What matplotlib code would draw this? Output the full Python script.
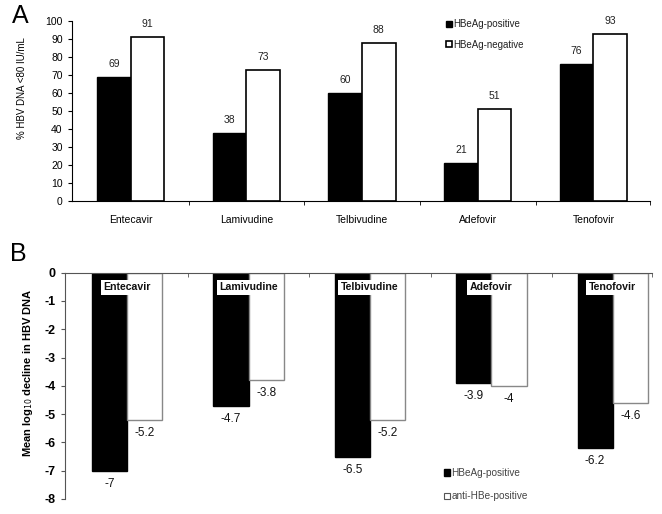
import matplotlib
matplotlib.use("Agg")
import matplotlib.pyplot as plt
from matplotlib.patches import Patch
import numpy as np

plt.rcParams['font.family'] = ['Liberation Sans', 'DejaVu Sans']
plt.rcParams['axes.unicode_minus'] = False

drugs = ["Entecavir", "Lamivudine", "Telbivudine", "Adefovir", "Tenofovir"]
a_pos = [69, 38, 60, 21, 76]
a_neg = [91, 73, 88, 51, 93]
a_ylabel = "% HBV DNA <80 IU/mL"
a_legend = ["HBeAg-positive", "HBeAg-negative"]

b_pos = [-7, -4.7, -6.5, -3.9, -6.2]
b_neg = [-5.2, -3.8, -5.2, -4, -4.6]
b_ylabel = "Mean log$_{10}$ decline in HBV DNA"
b_legend = ["HBeAg-positive", "anti-HBe-positive"]

fig = plt.figure(figsize=(6.62, 5.14), dpi=100)
x = np.arange(len(drugs))
w = 0.29

# ---- Panel A ----
axA = fig.add_axes([0.1083, 0.609, 0.8736, 0.350])
axA.bar(x - w/2, a_pos, w, color='black', edgecolor='black', linewidth=1)
axA.bar(x + w/2, a_neg, w, color='white', edgecolor='black', linewidth=1.2)
for i in range(len(drugs)):
    axA.text(x[i] - w/2, a_pos[i] + 4.5, str(a_pos[i]), ha='center', va='bottom', fontsize=7.5, color='#222222')
    axA.text(x[i] + w/2, a_neg[i] + 4.5, str(a_neg[i]), ha='center', va='bottom', fontsize=7.5, color='#222222')
axA.set_xlim(-0.51, 4.49)
axA.set_ylim(0, 100)
axA.set_yticks(range(0, 101, 10))
axA.set_xticks(x)
axA.set_xticklabels(drugs)
axA.set_xticks(list(np.arange(0.5, 4.0, 1.0)) + [4.49], minor=True)
axA.tick_params(axis='x', which='major', length=0, pad=10, labelsize=7.5)
axA.tick_params(axis='x', which='minor', length=3, direction='out')
axA.tick_params(axis='y', length=3, direction='out', labelsize=7.5)
axA.spines['top'].set_visible(False)
axA.spines['right'].set_visible(False)
axA.set_ylabel(a_ylabel, fontsize=7)
axA.yaxis.set_label_coords(-0.078, 0.628)
axA.legend([Patch(facecolor='black', edgecolor='black'), Patch(facecolor='white', edgecolor='black', linewidth=1.2)],
           a_legend, frameon=False, fontsize=7, loc='upper left', bbox_to_anchor=(0.632, 1.06),
           handlelength=0.6, handleheight=0.6, handletextpad=0.1, labelspacing=1.1, labelcolor='#222222')
fig.text(0.030, 0.969, "A", fontsize=18, va='center', ha='center')

# ---- Panel B ----
axB = fig.add_axes([0.0982, 0.0292, 0.886, 0.4403])
gray = '#555555'
axB.bar(x - w/2, b_pos, w, color='black', edgecolor='black', linewidth=1)
axB.bar(x + w/2, b_neg, w, color='white', edgecolor='#888888', linewidth=1)
for i in range(len(drugs)):
    axB.text(x[i] - w/2, b_pos[i] - 0.25, f"{b_pos[i]:g}", ha='center', va='top', fontsize=8.5, color='#111111')
    axB.text(x[i] + w/2, b_neg[i] - 0.25, f"{b_neg[i]:g}", ha='center', va='top', fontsize=8.5, color='#111111')
    axB.text(x[i], -0.52, drugs[i], ha='center', va='center', fontweight='bold', fontsize=7.6,
             color='#111111', bbox=dict(facecolor='white', edgecolor='none', pad=2))
axB.set_xlim(-0.513, 4.32)
axB.set_ylim(-8, 0)
axB.set_yticks(range(-8, 1))
axB.xaxis.tick_top()
axB.set_xticks([])
axB.set_xticks(list(np.arange(0.5, 4.0, 1.0)) + [4.32], minor=True)
axB.tick_params(axis='x', which='minor', length=3, direction='in', color=gray)
axB.spines['bottom'].set_visible(False)
axB.spines['right'].set_visible(False)
axB.spines['top'].set_color(gray)
axB.spines['left'].set_color(gray)
axB.tick_params(axis='y', length=3, direction='out', labelsize=9, color=gray)
for lab in axB.get_yticklabels():
    lab.set_fontweight('bold')
axB.set_ylabel(b_ylabel, fontsize=8, fontweight='bold')
axB.yaxis.set_label_coords(-0.051, 0.557)
axB.legend([Patch(facecolor='black', edgecolor='black'), Patch(facecolor='white', edgecolor='#555555', linewidth=0.8)],
           b_legend, frameon=False, fontsize=7.2, loc='upper left', bbox_to_anchor=(0.63, 0.177),
           handlelength=0.6, handleheight=0.6, handletextpad=0.2, labelspacing=1.35, labelcolor='#444444')
fig.text(0.028, 0.505, "B", fontsize=18, va='center', ha='center')

fig.savefig("out.png", dpi=100)
